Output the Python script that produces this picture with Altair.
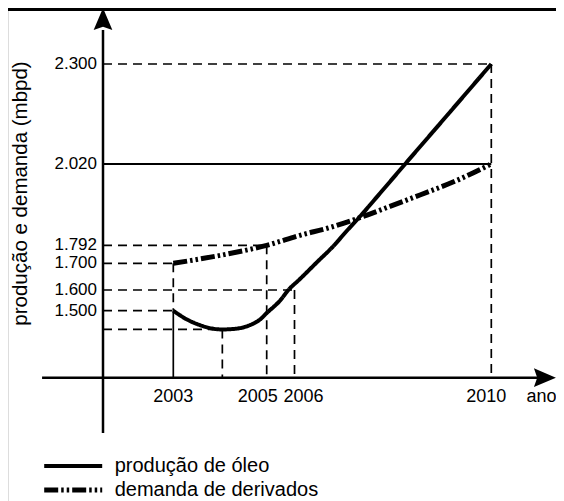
import altair as alt
import pandas as pd

# ---------------- values ----------------
SERIES = ["produção de óleo", "demanda de derivados"]

PROD_YEAR = [2003.00, 2003.29, 2003.57, 2003.86, 2004.05, 2004.24, 2004.43, 2004.64, 2004.86, 2005.00,
             2005.48, 2005.78, 2006.11, 2006.45, 2006.79, 2007.06, 2007.30, 2007.74, 2008.25, 2009.12, 2010.00]
PROD_VALUE = [1500, 1474, 1457, 1446, 1444, 1445, 1448, 1457, 1474, 1493,
              1549, 1600, 1641, 1704, 1788, 1832, 1868, 1938, 2020, 2159, 2300]

DEM_YEAR = [2003.00, 2003.57, 2004.21, 2005.00, 2006.11, 2006.72, 2007.30, 2007.94, 2008.55, 2009.27, 2010.00]
DEM_VALUE = [1700, 1722, 1750, 1792, 1820, 1842, 1868, 1901, 1933, 1972, 2020]

X_TICKS = [2003, 2005, 2006, 2010]
Y_TICKS = [1500, 1600, 1700, 1792, 2020, 2300]

Y_TITLE = "produção e demanda (mbpd)"
X_TITLE = "ano"

# axis crossing points (data units) and axis extents
AXIS_YEAR = 2001.5      # where the vertical axis stands
AXIS_VALUE = 1300       # where the horizontal axis lies
Y_AXIS_EXTENT = [1135, 2395]
X_AXIS_EXTENT = [2000.2, 2011.09]
Y_ARROW_AT = 2426

i_min = PROD_VALUE.index(min(PROD_VALUE))
MIN_YEAR, MIN_VALUE = PROD_YEAR[i_min], PROD_VALUE[i_min]

# ---------------- scales (schematic, piecewise linear) ----------------
FONT = "Liberation Sans"
W, H = 548, 493
xs = alt.Scale(type="linear", domain=[AXIS_YEAR, 2003, 2005, 2006, 2010],
               range=[95, 165.3, 258.7, 286.5, 483.3], nice=False, zero=False)
ys = alt.Scale(type="linear", domain=[AXIS_VALUE, 1500, 1600, 1700, 1792, 2300],
               range=[369.7, 302.7, 282, 255.3, 237.3, 56], nice=False, zero=False)


def X(f):
    return alt.X(f, type="quantitative", scale=xs, axis=None)


def Y(f):
    return alt.Y(f, type="quantitative", scale=ys, axis=None)


# ---------------- guide lines ----------------
h_dashed = pd.DataFrame({
    "value": [2300, 1792, 1700, 1600, 1500, MIN_VALUE],
    "x0": AXIS_YEAR,
    "x1": [2010, 2005, 2003, 2006, 2003, MIN_YEAR],
})
h_solid = pd.DataFrame({"value": [2020], "x0": AXIS_YEAR, "x1": [2010]})
v_dashed = pd.DataFrame({
    "year": [2003, MIN_YEAR, 2005, 2006, 2010],
    "v0": [1700, MIN_VALUE, 1792, 1600, 2300],
    "v1": [1500, AXIS_VALUE, AXIS_VALUE, AXIS_VALUE, AXIS_VALUE],
})
v_solid = pd.DataFrame({"year": [2003], "v0": [1500], "v1": [AXIS_VALUE]})

DASH = [9, 6]
g1 = alt.Chart(h_dashed).mark_rule(color="black", strokeWidth=1.7, strokeDash=DASH).encode(
    x=X("x0"), x2="x1:Q", y=Y("value"))
g2 = alt.Chart(h_solid).mark_rule(color="black", strokeWidth=2).encode(
    x=X("x0"), x2="x1:Q", y=Y("value"))
g3 = alt.Chart(v_dashed).mark_rule(color="black", strokeWidth=1.7, strokeDash=DASH).encode(
    x=X("year"), y=Y("v0"), y2="v1:Q")
g4 = alt.Chart(v_solid).mark_rule(color="black", strokeWidth=1.7).encode(
    x=X("year"), y=Y("v0"), y2="v1:Q")

# ---------------- axes with arrows ----------------
yaxis = alt.Chart(pd.DataFrame({"year": [AXIS_YEAR], "v0": [Y_AXIS_EXTENT[0]], "v1": [Y_AXIS_EXTENT[1]]})).mark_rule(
    color="black", strokeWidth=2.5).encode(x=X("year"), y=Y("v0"), y2="v1:Q")
xaxis = alt.Chart(pd.DataFrame({"value": [AXIS_VALUE], "x0": [X_AXIS_EXTENT[0]], "x1": [X_AXIS_EXTENT[1]]})).mark_rule(
    color="black", strokeWidth=2.5).encode(x=X("x0"), x2="x1:Q", y=Y("value"))
arrow_up = alt.Chart(pd.DataFrame({"year": [AXIS_YEAR], "value": [Y_ARROW_AT]})).mark_point(
    shape="M0,-1L0.85,1L0,0.7L-0.85,1Z", size=484, filled=True, color="black", opacity=1, strokeWidth=0
).encode(x=X("year"), y=Y("value"))
arrow_right = alt.Chart(pd.DataFrame({"year": [X_AXIS_EXTENT[1]], "value": [AXIS_VALUE]})).mark_point(
    shape="M1,0L-1,-0.85L-0.7,0L-1,0.85Z", size=484, filled=True, color="black", opacity=1, strokeWidth=0
).encode(x=X("year"), y=Y("value"))

# ---------------- the two series ----------------
lines_df = pd.DataFrame({
    "year": PROD_YEAR + DEM_YEAR,
    "value": PROD_VALUE + DEM_VALUE,
    "series": [SERIES[0]] * len(PROD_YEAR) + [SERIES[1]] * len(DEM_YEAR),
})
lines = alt.Chart(lines_df).mark_line(color="black", interpolate="monotone").encode(
    x=X("year"),
    y=Y("value"),
    strokeDash=alt.StrokeDash(
        "series:N",
        scale=alt.Scale(domain=SERIES, range=[[1, 0], [14, 3, 2.5, 3, 2.5, 3]]),
        legend=alt.Legend(
            title=None, orient="none", legendX=33.7, legendY=446,
            symbolType="stroke", symbolSize=3364, symbolStrokeWidth=5,
            symbolStrokeColor="black", symbolOffset=0, clipHeight=24, rowPadding=0,
            labelFont=FONT, labelFontSize=20, labelColor="black", labelOffset=10,
            labelLimit=400, padding=0,
        ),
    ),
    strokeWidth=alt.StrokeWidth("series:N", scale=alt.Scale(domain=SERIES, range=[4, 5]), legend=None),
)

# ---------------- labels ----------------
ylab_df = pd.DataFrame({
    "value": Y_TICKS,
    "year": AXIS_YEAR,
    "label": [f"{v:,}".replace(",", ".") for v in Y_TICKS],
})
ylabels = alt.Chart(ylab_df).mark_text(
    align="right", baseline="middle", dx=-6, font=FONT, fontSize=17, color="black"
).encode(x=X("year"), y=Y("value"), text="label:N")

xlab_df = pd.DataFrame({"year": X_TICKS, "base": AXIS_VALUE, "label": [str(t) for t in X_TICKS]})


def xlabel(year, dx):
    return alt.Chart(xlab_df).transform_filter(alt.datum.year == year).mark_text(
        align="center", baseline="middle", dx=dx, dy=19, font=FONT, fontSize=18, color="black"
    ).encode(x=X("year"), y=Y("base"), text="label:N")


xl = [xlabel(2003, 0), xlabel(2005, -9), xlabel(2006, 9), xlabel(2010, -5)]

xtitle = alt.Chart(pd.DataFrame({"t": [X_TITLE], "base": [AXIS_VALUE]})).mark_text(
    align="center", baseline="middle", dy=19, font=FONT, fontSize=18, color="black"
).encode(x=alt.value(533.5), y=Y("base"), text="t:N")

ytitle = alt.Chart(pd.DataFrame({"t": [Y_TITLE]})).mark_text(
    angle=270, align="center", baseline="middle", font=FONT, fontSize=20.5, color="black"
).encode(x=alt.value(13), y=alt.value(185.5), text="t:N")

border = alt.Chart(pd.DataFrame({"a": [0]})).mark_rule(color="black", strokeWidth=3).encode(
    x=alt.value(0), x2=alt.value(W), y=alt.value(1.5))

chart = alt.layer(
    border, g1, g2, g3, g4, yaxis, xaxis, arrow_up, arrow_right, lines,
    ylabels, *xl, xtitle, ytitle
).properties(
    width=W, height=H, padding=0, autosize=alt.AutoSizeParams(type="none")
).configure_view(stroke=None).configure(background="white")

chart.save("out.html", embed_options={"renderer": "svg", "actions": False})
